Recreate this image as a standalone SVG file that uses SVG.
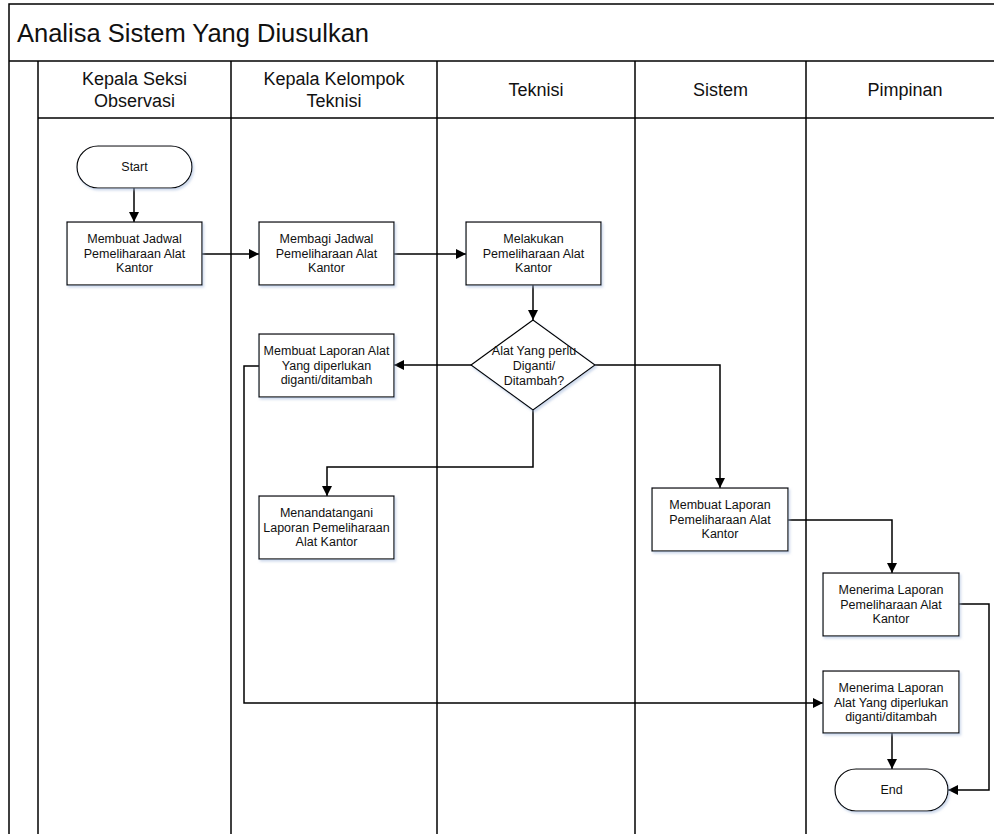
<svg xmlns="http://www.w3.org/2000/svg" width="994" height="834" viewBox="0 0 994 834">
<defs>
<marker id="ah" viewBox="0 0 10 10" refX="10" refY="5" markerWidth="10" markerHeight="10" markerUnits="userSpaceOnUse" orient="auto">
<path d="M0,0 L10,5 L0,10 Z" fill="#000"/>
</marker>
<filter id="sh" x="-10%" y="-10%" width="130%" height="130%">
<feDropShadow dx="1.5" dy="2" stdDeviation="1.2" flood-color="#9db4d8" flood-opacity="0.5"/>
</filter>
</defs>
<style>
.frame{fill:none;stroke:#000;stroke-width:1.5}
.lane{fill:none;stroke:#000;stroke-width:1.5}
.box{fill:#fff;stroke:#000;stroke-width:1.2;filter:url(#sh)}
.conn{fill:none;stroke:#000;stroke-width:1.5;marker-end:url(#ah)}
.t{font-family:"Liberation Sans",Arial,sans-serif;font-size:12.5px;fill:#111;text-anchor:middle}
.h{font-family:"Liberation Sans",Arial,sans-serif;font-size:18px;fill:#111;text-anchor:middle}
.title{font-family:"Liberation Sans",Arial,sans-serif;font-size:25.5px;fill:#111}
</style>
<rect width="994" height="834" fill="#fff"/>
<g id="pool">
<path class="frame" d="M9,834 V4 H994"/>
<path class="frame" d="M9,61 H994"/>
<text class="title" x="17" y="42">Analisa Sistem Yang Diusulkan</text>
<path class="lane" d="M38,834 V61"/>
<path class="lane" d="M38,118 H994"/>
<path class="lane" d="M231,61 V834"/>
<path class="lane" d="M437,61 V834"/>
<path class="lane" d="M635,61 V834"/>
<path class="lane" d="M806,61 V834"/>
<text class="h" x="134.5" y="85">Kepala Seksi</text>
<text class="h" x="134.5" y="107">Observasi</text>
<text class="h" x="334" y="85">Kepala Kelompok</text>
<text class="h" x="334" y="107">Teknisi</text>
<text class="h" x="536" y="96">Teknisi</text>
<text class="h" x="720.5" y="96">Sistem</text>
<text class="h" x="905" y="96">Pimpinan</text>
</g>
<g id="connectors">
<path class="conn" d="M134,188 V222"/>
<path class="conn" d="M202,254 H259"/>
<path class="conn" d="M394,254 H466"/>
<path class="conn" d="M533,285 V320"/>
<path class="conn" d="M471,365 H394"/>
<path class="conn" d="M533,410 V467 H327 V496"/>
<path class="conn" d="M595,365 H720 V488"/>
<path class="conn" d="M788,520 H892 V573"/>
<path class="conn" d="M959,604 H989 V790 H948"/>
<path class="conn" d="M259,366 H244 V703 H823"/>
<path class="conn" d="M892,733 V769"/>
</g>
<g id="start">
<rect class="box" x="77" y="146" width="115" height="42" rx="21"/>
<text class="t" x="134.5" y="171">Start</text>
</g>
<g id="membuat-jadwal">
<rect class="box" x="67" y="222" width="135" height="63"/>
<text class="t" x="134.5" y="243">Membuat Jadwal</text>
<text class="t" x="134.5" y="258">Pemeliharaan Alat</text>
<text class="t" x="134.5" y="272">Kantor</text>
</g>
<g id="membagi-jadwal">
<rect class="box" x="259" y="222" width="135" height="63"/>
<text class="t" x="326.5" y="243">Membagi Jadwal</text>
<text class="t" x="326.5" y="258">Pemeliharaan Alat</text>
<text class="t" x="326.5" y="272">Kantor</text>
</g>
<g id="melakukan">
<rect class="box" x="466" y="222" width="135" height="63"/>
<text class="t" x="533.5" y="243">Melakukan</text>
<text class="t" x="533.5" y="258">Pemeliharaan Alat</text>
<text class="t" x="533.5" y="272">Kantor</text>
</g>
<g id="decision">
<polygon class="box" points="533,320 595,365 533,410 471,365"/>
<text class="t" x="534" y="355">Alat Yang perlu</text>
<text class="t" x="534" y="370">Diganti/</text>
<text class="t" x="534" y="385">Ditambah?</text>
</g>
<g id="laporan-alat">
<rect class="box" x="259" y="334" width="135" height="63"/>
<text class="t" x="326.5" y="355">Membuat Laporan Alat</text>
<text class="t" x="326.5" y="370">Yang diperlukan</text>
<text class="t" x="326.5" y="384">diganti/ditambah</text>
</g>
<g id="menandatangani">
<rect class="box" x="259" y="496" width="135" height="63"/>
<text class="t" x="326.5" y="517">Menandatangani</text>
<text class="t" x="326.5" y="532">Laporan Pemeliharaan</text>
<text class="t" x="326.5" y="546">Alat Kantor</text>
</g>
<g id="laporan-pemeliharaan">
<rect class="box" x="652" y="488" width="136" height="63"/>
<text class="t" x="720" y="509">Membuat Laporan</text>
<text class="t" x="720" y="524">Pemeliharaan Alat</text>
<text class="t" x="720" y="538">Kantor</text>
</g>
<g id="menerima-pemeliharaan">
<rect class="box" x="823" y="573" width="136" height="63"/>
<text class="t" x="891" y="594">Menerima Laporan</text>
<text class="t" x="891" y="609">Pemeliharaan Alat</text>
<text class="t" x="891" y="623">Kantor</text>
</g>
<g id="menerima-alat">
<rect class="box" x="823" y="671" width="136" height="62"/>
<text class="t" x="891" y="692">Menerima Laporan</text>
<text class="t" x="891" y="707">Alat Yang diperlukan</text>
<text class="t" x="891" y="721">diganti/ditambah</text>
</g>
<g id="end">
<rect class="box" x="835" y="769" width="113" height="42" rx="21"/>
<text class="t" x="891.5" y="794">End</text>
</g>
</svg>
